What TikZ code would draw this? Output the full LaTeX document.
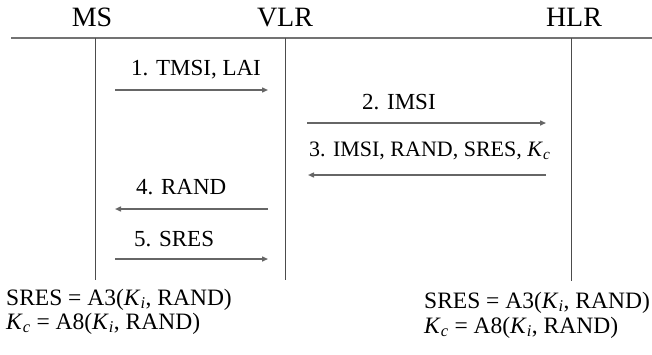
\documentclass[tikz,border=0pt]{standalone}
\usepackage{fontspec}
\setmainfont{Liberation Serif}
\usetikzlibrary{arrows.meta}

\newcommand{\KeyC}{\textit{K}\textsubscript{\textit{c}}}
\newcommand{\KeyI}{\textit{K}\textsubscript{\textit{i}}}

\begin{document}
\begin{tikzpicture}[x=1pt, y=-1pt,
    lifeline/.style={draw=black!70, line width=0.8pt},
    msg/.style={draw=black!60, line width=1.4pt, -{Triangle[length=6pt,width=5pt]}},
    party/.style={anchor=base, inner sep=0pt, font=\fontsize{28}{32}\selectfont},
    msglabel/.style={anchor=base west, inner sep=0pt, font=\fontsize{23}{27}\selectfont},
    formula/.style={anchor=base west, inner sep=0pt, font=\fontsize{23.5}{27}\selectfont}]

    \useasboundingbox (0,0) rectangle (652,354);

    % parties
    \node[party] (ms) at (92,26) {MS};
    \node[party] (vlr) at (285,26) {VLR};
    \node[party] (hlr) at (574,26) {HLR};
    \draw[black!55, line width=1.6pt] (11,38) -- (652,38);

    \coordinate (mstop) at (95,38);   \coordinate (msbot) at (95,280);
    \coordinate (vlrtop) at (285,38); \coordinate (vlrbot) at (285,280);
    \coordinate (hlrtop) at (571,38); \coordinate (hlrbot) at (571,281);
    \draw[lifeline] (mstop) -- (msbot);
    \draw[lifeline] (vlrtop) -- (vlrbot);
    \draw[lifeline] (hlrtop) -- (hlrbot);

    % messages
    \coordinate (m1a) at (115,90);  \coordinate (m1b) at (268,90);
    \coordinate (m2a) at (307,123); \coordinate (m2b) at (546,123);
    \coordinate (m3a) at (546,175); \coordinate (m3b) at (308,175);
    \coordinate (m4a) at (268,209); \coordinate (m4b) at (115,209);
    \coordinate (m5a) at (115,259); \coordinate (m5b) at (268,259);
    \draw[msg] (m1a) -- (m1b);
    \draw[msg] (m2a) -- (m2b);
    \draw[msg] (m3a) -- (m3b);
    \draw[msg] (m4a) -- (m4b);
    \draw[msg] (m5a) -- (m5b);

    \node[msglabel] (l1) at (131,75) {1. TMSI, LAI};
    \node[msglabel] (l2) at (362,109) {2. IMSI};
    \node[msglabel, font=\fontsize{22}{26}\selectfont] (l3) at (309,156) {3. IMSI, RAND, SRES, \KeyC};
    \node[msglabel] (l4) at (136,194) {4. RAND};
    \node[msglabel] (l5) at (134,246) {5. SRES};

    % computations
    \node[formula] (msres) at (6,305) {SRES = A3(\KeyI, RAND)};
    \node[formula] (mskc) at (6,329) {\KeyC{} = A8(\KeyI, RAND)};
    \node[formula] (hlrres) at (424,308) {SRES = A3(\KeyI, RAND)};
    \node[formula] (hlrkc) at (424,333) {\KeyC{} = A8(\KeyI, RAND)};
\end{tikzpicture}
\end{document}
